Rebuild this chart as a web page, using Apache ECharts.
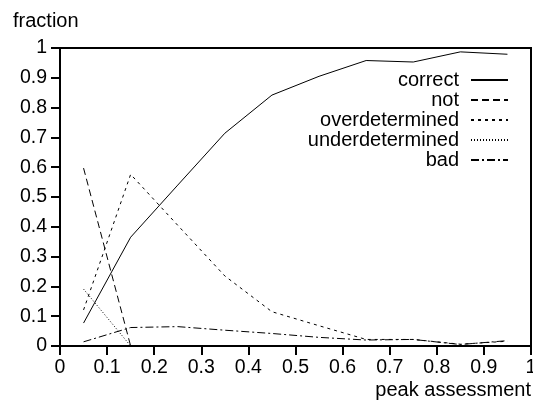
<!DOCTYPE html>
<html><head><meta charset="utf-8">
<script src="https://cdn.jsdelivr.net/npm/echarts@6/dist/echarts.min.js"></script>
<style>html,body{margin:0;padding:0;background:#fff}#c{width:533px;height:401px}</style>
</head><body><div id="c"></div>
<script>
var xs = [0.05, 0.15, 0.25, 0.35, 0.45, 0.55, 0.65, 0.75, 0.85, 0.95];
var correct = [0.077, 0.365, 0.54, 0.714, 0.842, 0.905, 0.958, 0.953, 0.987, 0.979];
var notv = [0.597, 0, 0, 0, 0, 0, 0, 0, 0, 0];
var overdetermined = [0.121, 0.576, 0.405, 0.235, 0.115, 0.068, 0.022, 0.022, 0.006, 0.016];
var underdetermined = [0.191, 0, 0, 0, 0, 0, 0, 0, 0, 0];
var bad = [0.014, 0.062, 0.065, 0.053, 0.042, 0.029, 0.02, 0.022, 0.005, 0.018];
var seriesNames = ['correct', 'not', 'overdetermined', 'underdetermined', 'bad'];
var seriesData = [correct, notv, overdetermined, underdetermined, bad];
var dashes = ['solid', [7, 4], [3, 4], [1, 2], [8, 3, 2, 3]];
var tickLabels = ['0','0.1','0.2','0.3','0.4','0.5','0.6','0.7','0.8','0.9','1'];

var FONT = 'Liberation Sans, Arial, sans-serif';
var FS = 20;
var TFS = 19.5;
var chart = echarts.init(document.getElementById('c'), null, {renderer: 'canvas'});
function pairs(arr){ return xs.map(function(x, i){ return [x, arr[i]]; }); }
function axisCommon(){
  return {
    min: 0, max: 1, interval: 0.1,
    axisLine: {show: true, lineStyle: {color: '#000', width: 2}},
    axisTick: {show: true, inside: false, length: 9, lineStyle: {color: '#000', width: 2}},
    axisLabel: {color: '#000', fontFamily: FONT, fontSize: TFS, margin: 12, showMinLabel: true, showMaxLabel: true,
      formatter: function(v){ var i = Math.round(v * 10); return tickLabels[i]; }},
    splitLine: {show: false}
  };
}
chart.setOption({
  animation: false,
  backgroundColor: '#fff',
  grid: {left: 60, right: 2, top: 48, bottom: 55, outerBoundsMode: 'none', containLabel: false,
    show: true, borderColor: '#000', borderWidth: 2, backgroundColor: 'transparent'},
  xAxis: Object.assign({type: 'value'}, axisCommon()),
  yAxis: Object.assign({type: 'value'}, axisCommon(), {axisLabel: Object.assign(axisCommon().axisLabel, {margin: 13})}),
  legend: {
    orient: 'vertical', right: 24, top: 70, align: 'right', padding: 0,
    itemWidth: 37, itemHeight: 14, itemGap: 0,
    itemStyle: {opacity: 0, borderWidth: 0},
    textStyle: {color: '#000', fontFamily: FONT, fontSize: FS, lineHeight: 20, padding: [0, 7, 0, 0]},
    data: seriesNames
  },
  graphic: [
    {type: 'text', left: 13, top: 11, style: {text: 'fraction', fill: '#000', font: FS + 'px ' + FONT}},
    {type: 'text', right: 2, top: 380, style: {text: 'peak assessment', fill: '#000', font: FS + 'px ' + FONT}}
  ],
  series: seriesNames.map(function(n, i){
    return {
      name: n, type: 'line', data: pairs(seriesData[i]),
      showSymbol: false, symbol: 'none', clip: false,
      lineStyle: {color: '#000', width: 1, type: dashes[i]},
      itemStyle: {color: '#000'}
    };
  })
});
</script></body></html>
